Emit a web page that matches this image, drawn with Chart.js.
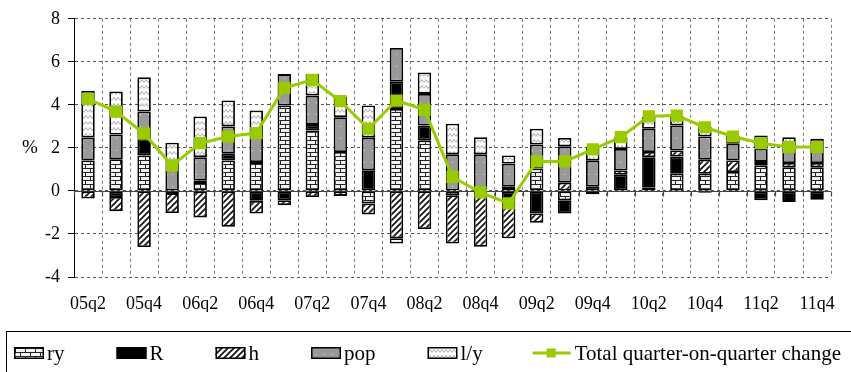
<!DOCTYPE html>
<html>
<head>
<meta charset="utf-8">
<script src="https://cdn.jsdelivr.net/npm/chart.js@4.4.1/dist/chart.umd.min.js"></script>
<style>
  html, body { margin: 0; padding: 0; background: #fff; }
  #wrap { width: 851px; height: 372px; position: relative; }
</style>
</head>
<body>
<div id="wrap"><canvas id="chart" width="851" height="372"></canvas></div>
<script>
// quarters 05q2 .. 11q4
const quarters = ['05q2','05q3','05q4','06q1','06q2','06q3','06q4','07q1','07q2','07q3','07q4',
  '08q1','08q2','08q3','08q4','09q1','09q2','09q3','09q4','10q1','10q2','10q3','10q4',
  '11q1','11q2','11q3','11q4'];

// contributions, percentage points
const ry  = [1.42, 1.47, 1.65, -0.10, 0.37, 1.42, 1.34, 3.97, 2.81, 1.81, -0.58, 3.81, 2.35, -0.20, -0.20, 0.19, 1.04, -0.43, 0.20, 0, 0.15, 0.80, 0.80, 0.88, 1.19, 1.10, 1.10];
const R   = [0, -0.28, 0.78, 0, 0.10, 0.31, -0.46, -0.43, 0.26, 0, 0.96, 1.27, 0.69, 0, 0, -0.43, -1.05, -0.62, -0.15, 0.75, 1.42, 0.80, -0.09, -0.05, -0.43, -0.51, -0.41];
const h   = [-0.35, -0.66, -2.61, -0.93, -1.23, -1.67, -0.59, -0.23, -0.28, -0.23, -0.51, -2.20, -1.77, -2.24, -2.39, -1.77, -0.43, 0.38, 0, 0.20, 0.24, 0.28, 0.65, 0.54, 0.16, 0.20, 0.20];
const pop = [1.06, 1.15, 1.26, 1.28, 1.10, 1.27, 1.16, 1.46, 1.36, 1.62, 1.51, 1.56, 1.47, 1.70, 1.70, 1.08, 1.12, 1.70, 1.20, 1.00, 1.08, 1.16, 1.08, 0.77, 0.61, 0.70, 0.70];
const ly  = [2.17, 2.00, 1.59, 0.96, 1.89, 1.20, 1.24, 0, 1.00, 0.95, 1.50, -0.24, 1.00, 1.42, 0.80, 0.38, 0.73, 0.38, 0.65, 0.55, 0.55, 0.46, 0.47, 0.36, 0.62, 0.50, 0.42];
const total = [4.28, 3.69, 2.66, 1.19, 2.22, 2.53, 2.69, 4.79, 5.16, 4.17, 2.89, 4.20, 3.77, 0.65, -0.07, -0.58, 1.37, 1.37, 1.93, 2.50, 3.47, 3.50, 2.96, 2.53, 2.22, 2.04, 2.04];

const yTicks = [-4, -2, 0, 2, 4, 6, 8];

const GREEN = '#99cc00';
const FONT = '"Liberation Serif", "Times New Roman", serif';

// fill patterns
function makePattern(w, hgt, draw) {
  const c = document.createElement('canvas');
  c.width = w; c.height = hgt;
  const g = c.getContext('2d');
  draw(g, w, hgt);
  return g.createPattern(c, 'repeat');
}
const brick = makePattern(10, 8, (g) => {
  g.fillStyle = '#f2f2f2'; g.fillRect(0, 0, 10, 8);
  g.fillStyle = '#222';
  g.fillRect(0, 0, 10, 1); g.fillRect(0, 4, 10, 1);
  g.fillRect(0, 1, 1, 3); g.fillRect(5, 5, 1, 3);
});
const hatch = makePattern(6, 6, (g) => {
  g.fillStyle = '#fff'; g.fillRect(0, 0, 6, 6);
  g.strokeStyle = '#111'; g.lineWidth = 1.7;
  g.beginPath();
  g.moveTo(-1, 7); g.lineTo(7, -1);
  g.moveTo(-4, 4); g.lineTo(4, -4);
  g.moveTo(2, 10); g.lineTo(10, 2);
  g.stroke();
});
const dots = makePattern(8, 12, (g) => {
  g.fillStyle = '#999'; g.fillRect(0, 0, 8, 12);
  g.fillStyle = '#e6e6e6'; g.fillRect(4, 6, 1, 1);
});
const zigzag = makePattern(8, 6, (g) => {
  g.fillStyle = '#fff'; g.fillRect(0, 0, 8, 6);
  g.strokeStyle = '#aaa'; g.lineWidth = 1;
  g.beginPath();
  g.moveTo(0, 4.5); g.lineTo(2, 1.5); g.lineTo(4, 4.5); g.lineTo(6, 1.5); g.lineTo(8, 4.5);
  g.stroke();
});

const barSeries = [
  { label: 'ry', data: ry, fill: brick },
  { label: 'R', data: R, fill: '#000' },
  { label: 'h', data: h, fill: hatch },
  { label: 'pop', data: pop, fill: dots },
  { label: 'l/y', data: ly, fill: zigzag }
];

// solid zero line with small ticks, "%" label and the boxed legend
const extras = {
  id: 'extras',
  beforeDatasetsDraw(chart) {
    const ctx = chart.ctx, y = chart.scales.y;
    const y0 = Math.round(y.getPixelForValue(0)) + 0.5;
    ctx.save();
    ctx.strokeStyle = '#444'; ctx.lineWidth = 1.2;
    ctx.beginPath();
    ctx.moveTo(chart.chartArea.left, y0); ctx.lineTo(chart.chartArea.right, y0);
    const step = (chart.chartArea.right - chart.chartArea.left) / quarters.length;
    for (let i = 0; i <= quarters.length; i++) {
      const px = Math.round(chart.chartArea.left + i * step) + 0.5;
      ctx.moveTo(px, y0); ctx.lineTo(px, y0 + 5);
    }
    ctx.stroke();
    ctx.restore();
  },
  afterDraw(chart) {
    const ctx = chart.ctx;
    ctx.save();
    ctx.fillStyle = '#000';
    ctx.font = '19px ' + FONT;
    ctx.textAlign = 'center'; ctx.textBaseline = 'middle';
    ctx.fillText('%', 30, 148);

    // legend frame
    ctx.strokeStyle = '#000'; ctx.lineWidth = 1;
    ctx.strokeRect(6.5, 331.5, 860, 60);

    ctx.font = '21px ' + FONT;
    ctx.textAlign = 'left';
    const cy = 353;
    let lx = 14;
    barSeries.forEach((s) => {
      ctx.fillStyle = s.fill;
      ctx.fillRect(lx, cy - 6, 30, 12);
      ctx.strokeStyle = '#000'; ctx.lineWidth = 1.5;
      ctx.strokeRect(lx + 0.75, cy - 5.25, 28.5, 10.5);
      ctx.fillStyle = '#000';
      ctx.fillText(s.label, lx + 33, cy + 1);
      lx += 33 + ctx.measureText(s.label).width + 52;
    });
    ctx.strokeStyle = GREEN; ctx.lineWidth = 3;
    ctx.beginPath(); ctx.moveTo(lx - 2, cy); ctx.lineTo(lx + 36, cy); ctx.stroke();
    ctx.fillStyle = GREEN; ctx.fillRect(lx + 12, cy - 4.5, 9, 9);
    ctx.fillStyle = '#000';
    ctx.fillText('Total quarter-on-quarter change', lx + 40, cy + 1);
    ctx.restore();
  }
};

const datasets = barSeries.map((s) => ({
  type: 'bar',
  label: s.label,
  data: s.data,
  backgroundColor: s.fill,
  borderColor: '#000',
  borderWidth: 1.8,
  borderSkipped: false,
  stack: 'bars',
  order: 1,
  barPercentage: 0.48,
  categoryPercentage: 1
}));
datasets.push({
  type: 'line',
  label: 'Total quarter-on-quarter change',
  data: total,
  borderColor: GREEN,
  backgroundColor: GREEN,
  borderWidth: 3,
  pointStyle: 'rect',
  pointRadius: 6.5,
  pointBackgroundColor: GREEN,
  pointBorderColor: GREEN,
  tension: 0,
  stack: 'total',
  order: 0
});

new Chart(document.getElementById('chart'), {
  data: { labels: quarters, datasets: datasets },
  options: {
    responsive: false,
    animation: false,
    layout: { padding: { left: 0, right: 15, top: 17, bottom: 60 } },
    plugins: { legend: { display: false }, tooltip: { enabled: false } },
    scales: {
      x: {
        stacked: true,
        offset: true,
        grid: { offset: true, color: '#777', lineWidth: 1, drawTicks: false },
        border: { display: false, dash: [3, 3] },
        ticks: {
          autoSkip: false, maxRotation: 0, padding: 16,
          color: '#000', font: { family: FONT, size: 18 },
          callback: (v, i) => (i % 2 === 0 ? quarters[i] : '')
        },
        afterFit: (s) => { s.height = 35; }
      },
      y: {
        stacked: true,
        min: -4, max: 8,
        afterBuildTicks: (s) => { s.ticks = yTicks.map((v) => ({ value: v })); },
        grid: { color: '#555', lineWidth: 1, tickLength: 6, tickColor: '#000', tickBorderDash: [] },
        border: { display: true, color: '#000', width: 1, dash: [3, 3] },
        ticks: { padding: 8, color: '#000', font: { family: FONT, size: 18 } },
        afterFit: (s) => { s.width = 74; }
      }
    }
  },
  plugins: [extras]
});
</script>
</body>
</html>
